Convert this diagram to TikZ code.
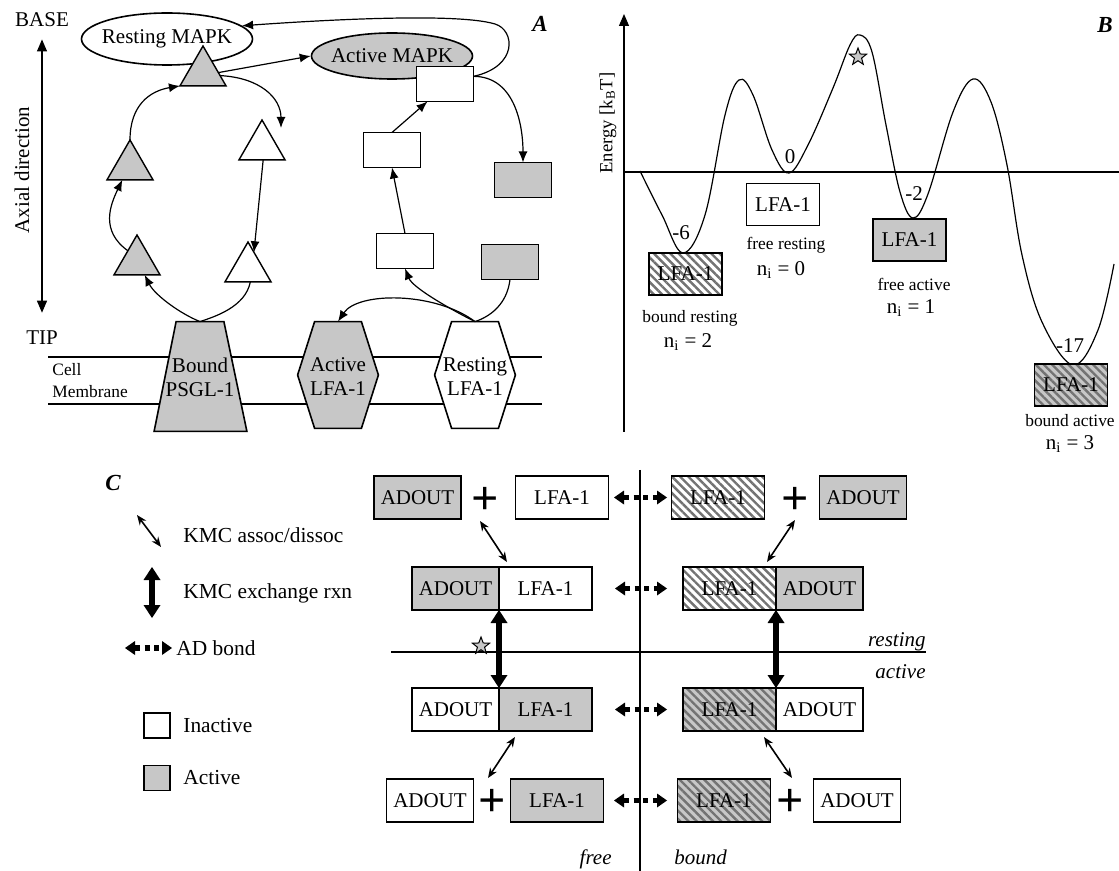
\documentclass[tikz,border=0pt]{standalone}
\usepackage{fontspec}
\setmainfont{Liberation Serif}
\usetikzlibrary{positioning,calc,arrows.meta,shapes.geometric,patterns.meta}

\definecolor{actgray}{gray}{0.78}
\definecolor{hatchgray}{gray}{0.45}

\tikzset{
	txt/.style={inner sep=0pt, font=\fontsize{10.5}{12}\selectfont},
	smalltxt/.style={inner sep=0pt, font=\fontsize{8.7}{10}\selectfont},
	legtxt/.style={inner sep=0pt, font=\fontsize{10.7}{12}\selectfont, anchor=west},
	ittxt/.style={inner sep=0pt, font=\fontsize{10.5}{12}\selectfont\itshape},
	paneltag/.style={inner sep=0pt, font=\fontsize{11.5}{12}\selectfont\bfseries\itshape},
	edge/.style={line width=0.6pt},
	flow/.style={edge, -{Latex[length=5.5pt,width=4.5pt]}},
	outline/.style={draw, line width=0.8pt},
	tri/.style={regular polygon, regular polygon sides=3, minimum size=26.6pt, inner sep=0pt, outer sep=0pt, draw, line width=0.7pt},
	rbox/.style={draw, line width=0.7pt, minimum width=28.5pt, minimum height=17.5pt, inner sep=0pt, outer sep=0pt},
	hatchw/.style={pattern={Lines[angle=-45,distance=2.9pt,line width=1.2pt]}, pattern color=hatchgray},
	hatchg/.style={preaction={fill=actgray}, pattern={Lines[angle=-45,distance=2.9pt,line width=1.2pt]}, pattern color=hatchgray},
	ebox/.style={txt, draw, line width=0.8pt, minimum width=36.5pt, minimum height=21pt, outer sep=0pt},
	cbox/.style={txt, draw, line width=0.8pt, minimum height=21.5pt, outer sep=0pt},
	adout/.style={cbox, minimum width=43.5pt},
	lfa/.style={cbox, minimum width=46.5pt},
	plus/.style={inner sep=0pt, font=\fontsize{24}{24}\selectfont\bfseries},
	starmark/.style={star, star points=5, star point ratio=2.4, draw, fill=actgray, minimum size=9pt, inner sep=0pt, line width=0.5pt},
	assoc/.style={line width=0.8pt, {Stealth[length=5pt,width=4pt]}-{Stealth[length=5pt,width=4pt]}},
	exch/.style={line width=2.6pt, {Triangle[length=6.5pt,width=8.5pt,line width=0pt]}-{Triangle[length=6.5pt,width=8.5pt,line width=0pt]}},
	adbond/.style={line width=2.6pt, dash pattern=on 2.6pt off 2.2pt, {Triangle[length=5pt,width=7pt,line width=0pt]}-{Triangle[length=5pt,width=7pt,line width=0pt]}},
	axial/.style={edge, {Triangle[length=6pt,width=5pt]}-{Triangle[length=6pt,width=5pt]}},
}

\begin{document}
\begin{tikzpicture}[x=0.5pt, y=-0.5pt]
	\useasboundingbox (0,0) rectangle (1119,871);
	
	% ---- panel A ----
	\node[txt] (base) at (42,20) {BASE};
	\node[txt] (tip) at (42,338) {TIP};
	\draw[axial, shorten <=6pt, shorten >=9pt] (base.south) -- (tip.north);
	\node[txt, rotate=90] (axial) at (22,170) {Axial direction};
	\node[paneltag] (tagA) at (540,24) {A};
	
	\draw[edge] (48,357) -- (542,357);
	\draw[edge] (48,404) -- (542,404);
	\node[smalltxt, anchor=west] (cell) at (52,370) {Cell};
	\node[smalltxt, anchor=west] (membrane) at (52,392) {Membrane};
	
	\node[minimum width=23.5pt, minimum height=54.5pt, inner sep=0pt] (psgl) at (200,376.5) {};
	\draw[outline, fill=actgray] (psgl.north west) -- (psgl.north east) -- ($(psgl.south east)+(23,0)$) -- ($(psgl.south west)+(-22,0)$) -- cycle;
	\node[txt, align=center] (psgltxt) at (200,377) {Bound\\PSGL-1};
	
	\foreach \nd/\x/\c/\t in {actlfa/338/actgray/Active, restlfa/475/white/Resting}
	{
		\node[minimum width=23pt, minimum height=53pt, inner sep=0pt] (\nd) at (\x,375) {};
		\draw[outline, fill=\c] (\nd.north west) -- (\nd.north east) -- ($(\nd.east)+(17,0)$) -- (\nd.south east) -- (\nd.south west) -- ($(\nd.west)+(-17,0)$) -- cycle;
		\node[txt, align=center] (\nd txt) at (\x,377) {\t\\LFA-1};
	}
	
	\node[ellipse, outline, fill=white, minimum width=85.5pt, minimum height=26pt, inner sep=0pt] (restmapk) at (167,39) {};
	\node[txt] (restmapktxt) at (restmapk) {Resting MAPK};
	\node[ellipse, outline, fill=actgray, minimum width=80.5pt, minimum height=23pt, inner sep=0pt] (actmapk) at (392,56) {};
	\node[txt] (actmapktxt) at (actmapk) {Active MAPK};
	
	\foreach \nd/\x/\y/\c in {t1/203/72.6/actgray, t2/130/166.6/actgray, t3/137/261.6/actgray, t4/262/146.6/white, t5/248/268.6/white}
		\node[tri, fill=\c] (\nd) at (\x,\y) {};
	\foreach \nd/\x/\y/\c in {r1/445/84/white, r2/392/150/white, r3/405/251/white, r4/523/180/actgray, r5/510/262/actgray}
		\node[rbox, fill=\c] (\nd) at (\x,\y) {};
	
	\draw[flow] (psgl.north) .. controls +(-20,-8) and +(10,20) .. (t3.-60);
	\draw[edge] (t5.-80) .. controls +(-5,25) and +(15,-5) .. (psgl.north);
	\draw[flow] (t3.130) .. controls +(-28,-20) and +(-12,25) .. (t2.-120);
	\draw[flow] (t2.corner 1) .. controls +(0,-35) and +(-30,5) .. (t1.corner 2);
	\draw[flow] (t1.east) -- (actmapk.west);
	\draw[flow] (t1.-10) .. controls +(40,2) and +(0,-30) .. ($(t4.corner 1)+(19,8)$);
	\draw[flow] (t4.-85) -- (t5.70);
	\draw[flow] (restlfa.north) .. controls +(-20,-10) and +(8,20) .. (r3.south);
	\draw[flow] (restlfa.north) .. controls +(-40,-30) and +(20,-30) .. (actlfa.north);
	\draw[edge] (r5.south) .. controls +(-3,25) and +(15,-5) .. (restlfa.north);
	\draw[flow] (r3.north) -- (r2.south);
	\draw[flow] (r2.north) -- (r1.-135);
	\draw[flow] (r1.15) .. controls +(40,0) and +(0,-40) .. (r4.north);
	\draw[flow] (r1.15) .. controls +(45,-10) and +(20,6) .. (495,24) .. controls +(-40,-12) and +(70,-5) .. (restmapk.10);
	
	% ---- panel B ----
	\node[paneltag] (tagB) at (1105,25) {B};
	\coordinate (eorig) at (624,432);
	\coordinate (etop) at (624,14);
	\coordinate (zleft) at (624,172);
	\coordinate (zright) at (1119,172);
	\draw[edge, -{Triangle[length=6pt,width=5pt]}] (eorig) -- (etop);
	\draw[edge] (zleft) -- (zright);
	\node[inner sep=0pt, rotate=90, font=\fontsize{9.3}{10}\selectfont] (energy) at (608,123) {Energy [k\textsubscript{B}T]};
	\draw[edge] plot[smooth, tension=0.6] coordinates {(640,171) (662,215) (683,253) (705,215) (725,115) (739,80) (753,95) (772,150) (789,173) (808,145) (833,88) (850,45) (860,35) (872,52) (886,125) (900,192) (913,218) (928,194) (953,112) (973,79) (991,102) (1007,165) (1022,255) (1042,322) (1073,365) (1098,330) (1114,264)};
	\node[starmark] (bstar) at (858,57) {};
	
	\node[ebox, hatchw] (brbox) at (685.5,274) {LFA-1};
	\node[ebox, fill=white] (frbox) at (783,204.5) {LFA-1};
	\node[ebox, fill=actgray] (fabox) at (909.5,240) {LFA-1};
	\node[ebox, hatchg] (babox) at (1071,385) {LFA-1};
	
	\node[txt] (vbr) at (681,233) {-6};
	\node[txt] (vfr) at (790,157) {0};
	\node[txt] (vfa) at (914,194) {-2};
	\node[txt] (vba) at (1070,346) {-17};
	
	\node[smalltxt] (lbr) at (690,318) {bound resting};
	\node[txt] (nbr) at (688,342) {n\textsubscript{i} = 2};
	\node[smalltxt] (lfr) at (786,245) {free resting};
	\node[txt] (nfr) at (781,270) {n\textsubscript{i} = 0};
	\node[smalltxt] (lfa) at (914,284) {free active};
	\node[txt] (nfa) at (911,308) {n\textsubscript{i} = 1};
	\node[smalltxt] (lba) at (1070,421) {bound active};
	\node[txt] (nba) at (1070,444) {n\textsubscript{i} = 3};
	
	% ---- panel C ----
	\node[paneltag] (tagC) at (113,483) {C};
	
	\node[legtxt] (lgassoc) at (183,535) {KMC assoc/dissoc};
	\draw[assoc] ($(lgassoc.west)+(-46,-20)$) -- ($(lgassoc.west)+(-22,12)$);
	\node[legtxt] (lgexch) at (183,593) {KMC exchange rxn};
	\draw[exch] ($(lgexch.west)+(-31,-26)$) -- ($(lgexch.west)+(-31,25)$);
	\node[legtxt] (lgbond) at (176,648) {AD bond};
	\draw[adbond] ($(lgbond.west)+(-51,0)$) -- ($(lgbond.west)+(-4,0)$);
	\node[outline, fill=white, minimum width=13pt, minimum height=12.5pt, inner sep=0pt] (lginact) at (157,725.5) {};
	\node[legtxt] (lginacttxt) at (183,726) {Inactive};
	\node[outline, fill=actgray, minimum width=13pt, minimum height=12.5pt, inner sep=0pt] (lgact) at (157,778) {};
	\node[legtxt] (lgacttxt) at (183,778) {Active};
	
	\coordinate (divtop) at (640,470);
	\coordinate (divbot) at (640,871);
	\draw[edge] (divtop) -- (divbot);
	\coordinate (hleft) at (391,652);
	\coordinate (hright) at (926,652);
	\draw[edge] (hleft) -- (hright);
	\node[ittxt, anchor=base east] (resting) at (926,646) {resting};
	\node[ittxt, anchor=base east] (active) at (926,678) {active};
	\node[ittxt, anchor=base east] (free) at (612,864) {free};
	\node[ittxt, anchor=base west] (bound) at (674,864) {bound};
	
	\node[adout, fill=actgray] (a1l) at (417.5,497.5) {ADOUT};
	\node[plus] (p1l) at (485,501) {+};
	\node[lfa, fill=white] (l1l) at (562,497.5) {LFA-1};
	\node[lfa, hatchw] (l1r) at (718,497.5) {LFA-1};
	\node[plus] (p1r) at (795,501) {+};
	\node[adout, fill=actgray] (a1r) at (863,497.5) {ADOUT};
	
	\node[adout, fill=actgray] (a2l) at (455.5,588.5) {ADOUT};
	\node[lfa, fill=white, right=0pt of a2l] (l2l) {LFA-1};
	\node[lfa, hatchw] (l2r) at (729.5,588.5) {LFA-1};
	\node[adout, fill=actgray, right=0pt of l2r] (a2r) {ADOUT};
	
	\node[adout, fill=white] (a3l) at (455.5,709.5) {ADOUT};
	\node[lfa, fill=actgray, right=0pt of a3l] (l3l) {LFA-1};
	\node[lfa, hatchg] (l3r) at (729.5,709.5) {LFA-1};
	\node[adout, fill=white, right=0pt of l3r] (a3r) {ADOUT};
	
	\node[adout, fill=white] (a4l) at (430,800.5) {ADOUT};
	\node[plus] (p4l) at (492,803) {+};
	\node[lfa, fill=actgray] (l4l) at (557,800.5) {LFA-1};
	\node[lfa, hatchg] (l4r) at (724,800.5) {LFA-1};
	\node[plus] (p4r) at (790,803) {+};
	\node[adout, fill=white] (a4r) at (857,800.5) {ADOUT};
	
	\draw[adbond, shorten <=2.75pt, shorten >=2.25pt] (l1l.east) -- (l1r.west);
	\draw[adbond, shorten <=11.5pt, shorten >=8pt] (l2l.east) -- (l2r.west);
	\draw[adbond, shorten <=11.5pt, shorten >=8pt] (l3l.east) -- (l3r.west);
	\draw[adbond, shorten <=5.25pt, shorten >=5.25pt] (l4l.east) -- (l4r.west);
	
	\draw[exch] (a2l.south east) -- (a3l.north east);
	\draw[exch] (l2r.south east) -- (l3r.north east);
	\node[starmark] (cstar) at (481,646) {};
	
	\draw[assoc] ($(p1l)+(-5,20)$) -- ($(a2l.north east)+(8,-5)$);
	\draw[assoc] ($(p1r)+(0,19)$) -- ($(a2r.north west)+(-9,-5)$);
	\draw[assoc] ($(l3l.south west)+(16,6)$) -- ($(p4l)+(-4,-25)$);
	\draw[assoc] ($(l3r.south east)+(-12,6)$) -- ($(p4r)+(2,-25)$);
\end{tikzpicture}
\end{document}
